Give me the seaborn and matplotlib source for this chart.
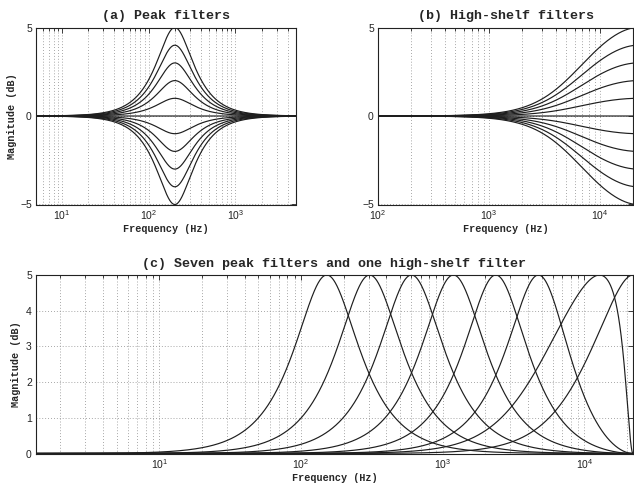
import numpy as np
import pandas as pd
import matplotlib
matplotlib.use("Agg")
import matplotlib.pyplot as plt
import matplotlib.ticker as mticker
import seaborn as sns

# ---------------- data ----------------
sample_rate_hz = 44100
peak_gains_db = [-5, -4, -3, -2, -1, 0, 1, 2, 3, 4, 5]
peak_center_hz = 200
peak_q = 0.8
shelf_gains_db = [-5, -4, -3, -2, -1, 0, 1, 2, 3, 4, 5]
shelf_corner_hz = 6000
bank_centers_hz = [152, 305, 602, 1190, 2370, 4740, 12800]
bank_q = [0.75, 0.75, 0.75, 0.75, 0.75, 0.72, 0.3]
bank_gain_db = 5
bank_shelf_hz = 10000

titles = ["(a) Peak filters", "(b) High-shelf filters",
          "(c) Seven peak filters and one high-shelf filter"]
xlabel = "Frequency (Hz)"
ylabel = "Magnitude (dB)"
xlim_a = (5, 5000)
xlim_b = (100, 20000)
xlim_c = (1.346, 22050)
yticks_ab = [-5, 0, 5]
yticks_c = [0, 1, 2, 3, 4, 5]


def _resp(b, a, f):
    w = 2 * np.pi * np.asarray(f) / sample_rate_hz
    z = np.exp(-1j * w)
    num = sum(bk * z ** k for k, bk in enumerate(b))
    den = sum(ak * z ** k for k, ak in enumerate(a))
    return 20 * np.log10(np.abs(num / den))


def peak_db(f, f0, g, q):
    A = 10 ** (g / 40)
    w0 = 2 * np.pi * f0 / sample_rate_hz
    al = np.sin(w0) / (2 * q)
    c = np.cos(w0)
    return _resp([1 + al * A, -2 * c, 1 - al * A], [1 + al / A, -2 * c, 1 - al / A], f)


def shelf1_db(f, fc, g):
    # first-order high shelf, bilinear with prewarped corner
    G = 10 ** (g / 40)
    K = np.tan(np.pi * fc / sample_rate_hz)
    return _resp([G + K, K - G], [1 / G + K, K - 1 / G], f)


def frame(curves):
    rows = []
    for name, f, m in curves:
        rows.append(pd.DataFrame({"freq": f, "mag": m, "curve": name}))
    return pd.concat(rows, ignore_index=True)


fa = np.geomspace(*xlim_a, 1500)
fb = np.geomspace(*xlim_b, 1500)
fc = np.geomspace(*xlim_c, 4000)
df_a = frame([(f"g{g}", fa, peak_db(fa, peak_center_hz, g, peak_q)) for g in peak_gains_db])
df_b = frame([(f"g{g}", fb, shelf1_db(fb, shelf_corner_hz, g)) for g in shelf_gains_db])
curves_c = [(f"p{f0}", fc, peak_db(fc, f0, bank_gain_db, q))
            for f0, q in zip(bank_centers_hz, bank_q)]
curves_c.append(("shelf", fc, shelf1_db(fc, bank_shelf_hz, bank_gain_db)))
df_c = frame(curves_c)

# ---------------- style ----------------
sns.set_style("white")
plt.rcParams["font.family"] = ["Liberation Sans", "DejaVu Sans"]
plt.rcParams["mathtext.fontset"] = "custom"
plt.rcParams["mathtext.rm"] = "Liberation Sans"
plt.rcParams["mathtext.it"] = "Liberation Sans:italic"
plt.rcParams["mathtext.bf"] = "Liberation Sans:bold"

W, H = 634, 484
fig = plt.figure(figsize=(W / 100, H / 100), dpi=100)
fig.patch.set_facecolor("white")


def px_axes(left, top, right, bottom):
    return fig.add_axes([left / W, 1 - bottom / H, (right - left) / W, (bottom - top) / H])


ax_a = px_axes(36, 27.5, 296, 204.5)
ax_b = px_axes(378, 27.5, 633, 204.5)
ax_c = px_axes(36, 275, 633, 453.5)

title_font = dict(family="Liberation Mono", weight="bold", size=9.6)
label_font = dict(family="Liberation Mono", weight="bold", size=7.3)
line_kw = dict(color="#1e1e1e", linewidth=0.85, estimator=None, units="curve",
               legend=False, sort=False)

for ax, df, xl in [(ax_a, df_a, xlim_a), (ax_b, df_b, xlim_b), (ax_c, df_c, xlim_c)]:
    ax.set_xscale("log")
    sns.lineplot(data=df, x="freq", y="mag", ax=ax, **line_kw)
    ax.set_xlim(*xl)
    ax.xaxis.set_major_locator(mticker.LogLocator(base=10, numticks=12))
    ax.xaxis.set_minor_locator(mticker.LogLocator(base=10, subs=np.arange(2, 10), numticks=12))
    ax.xaxis.set_minor_formatter(mticker.NullFormatter())
    ax.grid(True, which="major", axis="both", linestyle=(0, (1, 2.5)), color="#8a8a8a", linewidth=0.6)
    ax.grid(True, which="minor", axis="x", linestyle=(0, (1, 2.5)), color="#8a8a8a", linewidth=0.6)
    ax.set_axisbelow(True)
    for s in ax.spines.values():
        s.set_visible(True)
        s.set_color("#222222")
        s.set_linewidth(0.8)
    ax.tick_params(which="both", direction="in", top=True, right=True,
                   labelsize=7.5, colors="#222222", width=0.6, pad=3)
    ax.tick_params(which="major", length=3.5)
    ax.tick_params(which="minor", length=2)
    ax.set_xlabel(xlabel, fontdict=label_font, labelpad=1)
    ax.set_ylabel("")

ax_a.set_ylim(-5, 5)
ax_a.set_yticks(yticks_ab)
ax_b.set_ylim(-5, 5)
ax_b.set_yticks(yticks_ab)
ax_c.set_ylim(0, 5)
ax_c.set_yticks(yticks_c)

ax_a.set_ylabel(ylabel, fontdict=label_font, labelpad=2.5)
ax_c.set_ylabel(ylabel, fontdict=label_font, labelpad=3.5)

ax_a.set_title(titles[0], fontdict=title_font, pad=6)
ax_b.set_title(titles[1], fontdict=title_font, pad=6)
ax_c.set_title(titles[2], fontdict=title_font, pad=6)

fig.savefig("out.png", dpi=100, facecolor="white")
